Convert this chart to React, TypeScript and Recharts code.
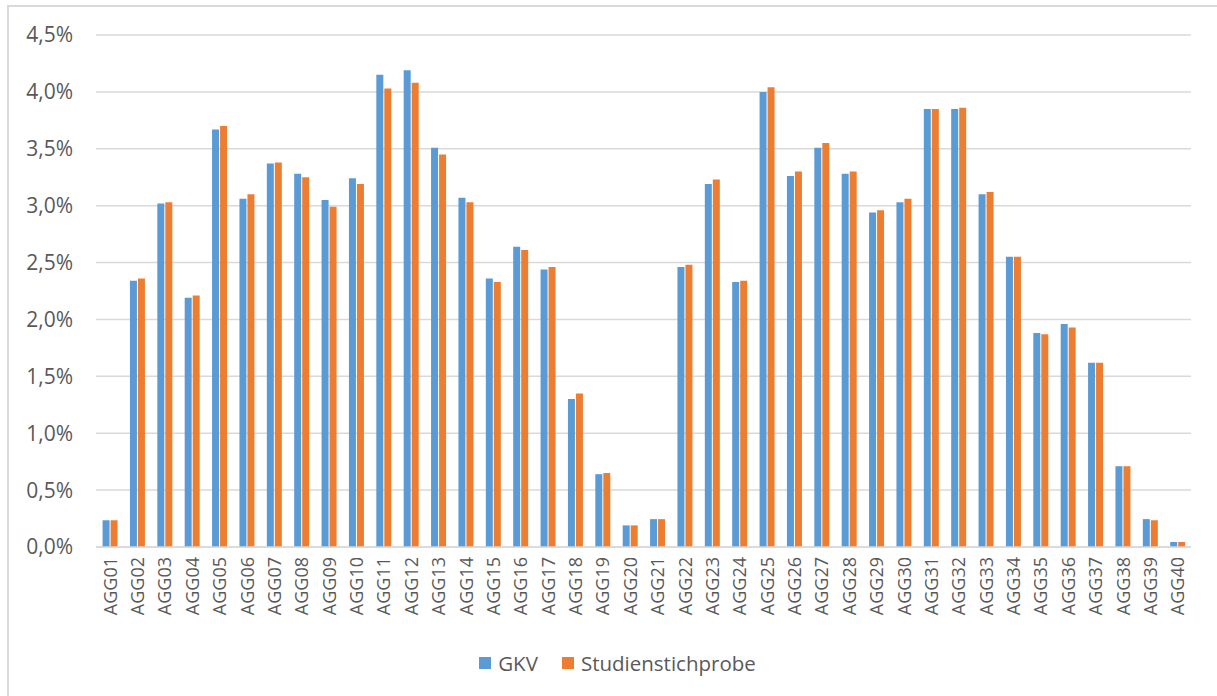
import { BarChart, Bar, XAxis, YAxis, CartesianGrid, Legend } from "recharts"

const categories = [
  "AGG01", "AGG02", "AGG03", "AGG04", "AGG05", "AGG06", "AGG07", "AGG08", "AGG09", "AGG10",
  "AGG11", "AGG12", "AGG13", "AGG14", "AGG15", "AGG16", "AGG17", "AGG18", "AGG19", "AGG20",
  "AGG21", "AGG22", "AGG23", "AGG24", "AGG25", "AGG26", "AGG27", "AGG28", "AGG29", "AGG30",
  "AGG31", "AGG32", "AGG33", "AGG34", "AGG35", "AGG36", "AGG37", "AGG38", "AGG39", "AGG40",
]

const gkv = [
  0.235, 2.34, 3.02, 2.19, 3.67, 3.06, 3.37, 3.28, 3.05, 3.24,
  4.15, 4.19, 3.51, 3.07, 2.36, 2.64, 2.44, 1.30, 0.64, 0.19,
  0.245, 2.46, 3.19, 2.33, 4.00, 3.26, 3.51, 3.28, 2.94, 3.03,
  3.85, 3.85, 3.10, 2.55, 1.88, 1.96, 1.62, 0.71, 0.245, 0.044,
]

const studie = [
  0.235, 2.36, 3.03, 2.21, 3.70, 3.10, 3.38, 3.25, 2.99, 3.19,
  4.03, 4.08, 3.45, 3.03, 2.33, 2.61, 2.46, 1.35, 0.65, 0.19,
  0.245, 2.48, 3.23, 2.34, 4.04, 3.30, 3.55, 3.30, 2.96, 3.06,
  3.85, 3.86, 3.12, 2.55, 1.87, 1.93, 1.62, 0.71, 0.235, 0.044,
]

const yTicks = [0, 0.5, 1, 1.5, 2, 2.5, 3, 3.5, 4, 4.5]

const data = categories.map((name, i) => ({ name, gkv: gkv[i], studie: studie[i] }))

const BLUE = "#5B9BD5"
const ORANGE = "#ED7D31"
const TEXT = "#595959"
const GRID = "#D9D9D9"
const FONT = "'Open Sans', 'Liberation Sans', sans-serif"

const fmtPct = (v: number) => v.toFixed(1).replace(".", ",") + "%"

function XTick(props: any) {
  const { x, y, payload } = props
  return (
    <text
      transform={`translate(${x},${y + 2}) rotate(-90)`}
      textAnchor="end"
      dominantBaseline="central"
      fill={TEXT}
      fontSize={18}
      fontFamily={FONT}
    >
      {payload.value}
    </text>
  )
}

function LegendContent() {
  const items = [
    { label: "GKV", color: BLUE },
    { label: "Studienstichprobe", color: ORANGE },
  ]
  return (
    <div style={{ height: 60, display: "flex", justifyContent: "center", alignItems: "center", gap: 24, paddingBottom: 6, paddingLeft: 44, boxSizing: "border-box" }}>
      {items.map((it) => (
        <div key={it.label} style={{ display: "flex", alignItems: "center", gap: 7 }}>
          <span style={{ width: 12, height: 12, background: it.color, display: "inline-block" }} />
          <span style={{ fontFamily: FONT, fontSize: 20.5, color: TEXT }}>{it.label}</span>
        </div>
      ))}
    </div>
  )
}

export default function App() {
  return (
    <div style={{ position: "absolute", left: 0, top: 0, width: 1217, height: 696, background: "#fff" }}>
      {/* outer chart frame */}
      <div style={{ position: "absolute", left: 7, top: 5, width: 1230, height: 720, border: `2px solid ${GRID}`, boxSizing: "border-box" }} />
      <BarChart
        width={1217}
        height={696}
        data={data}
        margin={{ top: 35, right: 26, bottom: 0, left: 0 }}
        barCategoryGap="24%"
        barGap={1}
        style={{ position: "absolute", left: 0, top: 0 }}
      >
        <CartesianGrid vertical={false} stroke={GRID} strokeWidth={1.5} />
        <XAxis
          dataKey="name"
          interval={0}
          height={89}
          tickLine={false}
          axisLine={{ stroke: GRID, strokeWidth: 1.5 }}
          tick={<XTick />}
        />
        <YAxis
          domain={[0, 4.5]}
          ticks={yTicks}
          width={96}
          tickLine={false}
          axisLine={false}
          tickMargin={17}
          tickFormatter={fmtPct}
          tick={{ fill: TEXT, fontSize: 21, fontFamily: FONT }}
        />
        <Legend verticalAlign="bottom" content={<LegendContent />} />
        <Bar dataKey="gkv" name="GKV" fill={BLUE} isAnimationActive={false} />
        <Bar dataKey="studie" name="Studienstichprobe" fill={ORANGE} isAnimationActive={false} />
      </BarChart>
    </div>
  )
}
